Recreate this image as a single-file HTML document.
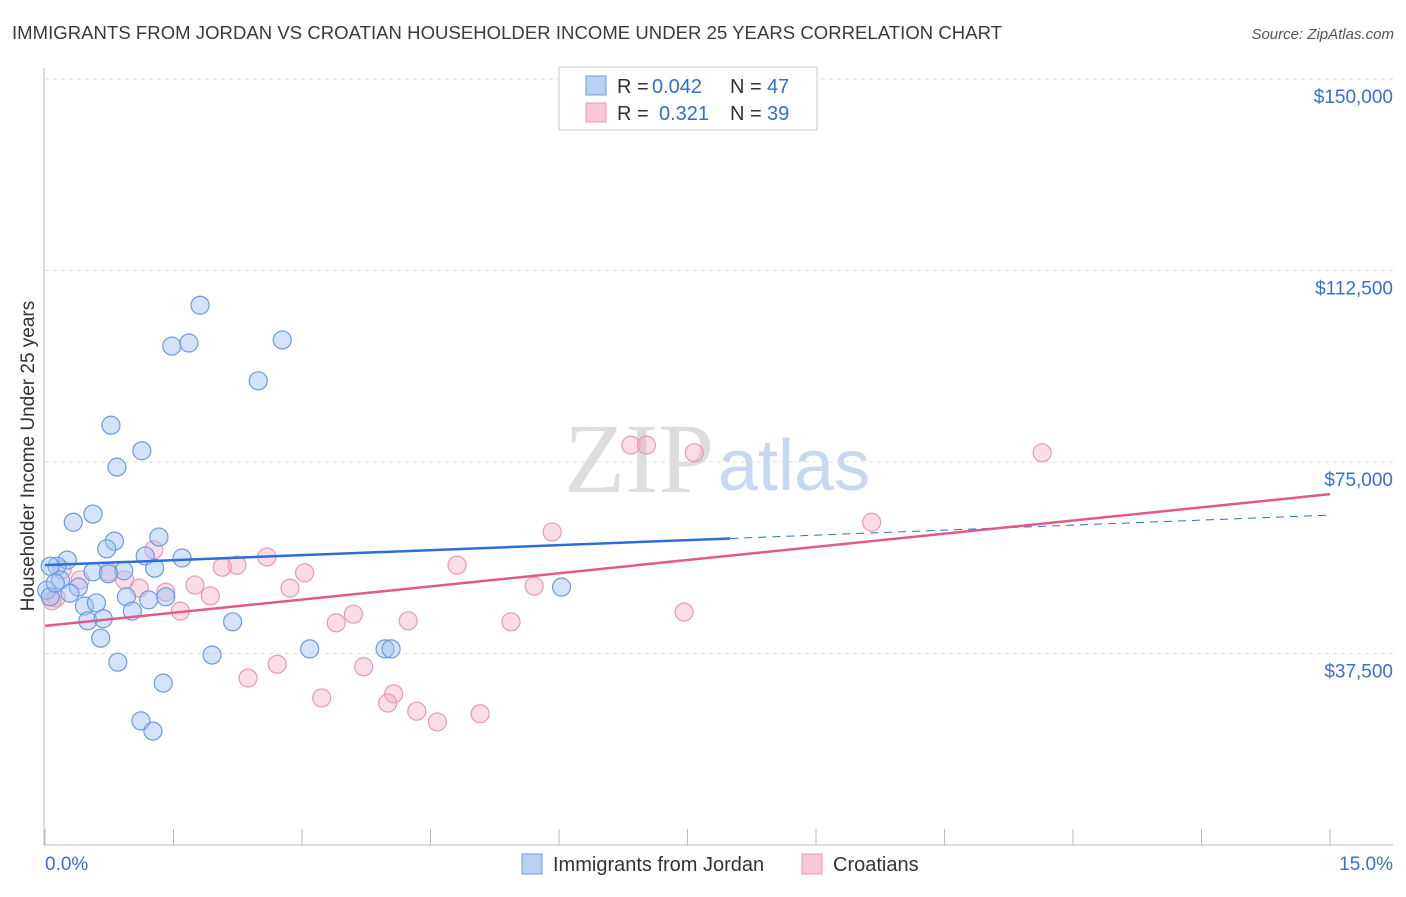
<!DOCTYPE html>
<html><head><meta charset="utf-8"><style>
body{margin:0;background:#fff;font-family:"Liberation Sans",sans-serif}
</style></head><body>
<svg id="c" width="1406" height="892" xmlns="http://www.w3.org/2000/svg" style="font-family:'Liberation Sans',sans-serif">
<text x="12" y="39" font-size="18.5" fill="#3a3a3a" textLength="990">IMMIGRANTS FROM JORDAN VS CROATIAN HOUSEHOLDER INCOME UNDER 25 YEARS CORRELATION CHART</text>
<text x="1394" y="39" font-size="15" fill="#555" font-style="italic" text-anchor="end">Source: ZipAtlas.com</text>
<text x="714" y="492" font-size="100" font-family="Liberation Serif" fill="#ddd" text-anchor="end">ZIP</text>
<text x="718" y="490" font-size="72" fill="#c8d8f0">atlas</text>
<text transform="translate(34,456) rotate(-90)" font-size="19" fill="#333" text-anchor="middle">Householder Income Under 25 years</text>
<g id="grid"></g><g id="marks"></g>
<g>
<rect x="559" y="67" width="258" height="63" fill="#fff" stroke="#ccc"/>
<rect x="586" y="76" width="20" height="19" fill="#b7d0f5" stroke="#6a9be0"/>
<rect x="586" y="103" width="20" height="19" fill="#f8c6d6" stroke="#e89ab2"/>
<text x="617" y="93" font-size="20" fill="#333">R =</text>
<text x="652" y="93" font-size="20" fill="#2f6fd0">0.042</text>
<text x="730" y="93" font-size="20" fill="#333">N =</text>
<text x="767" y="93" font-size="20" fill="#2f6fd0">47</text>
<text x="617" y="120" font-size="20" fill="#333">R =</text>
<text x="659" y="120" font-size="20" fill="#2f6fd0">0.321</text>
<text x="730" y="120" font-size="20" fill="#333">N =</text>
<text x="767" y="120" font-size="20" fill="#2f6fd0">39</text>
</g>
<g>
<rect x="522" y="854" width="20" height="20" fill="#b7d0f5" stroke="#6a9be0"/>
<text x="553" y="871" font-size="20" fill="#333">Immigrants from Jordan</text>
<rect x="802" y="854" width="20" height="20" fill="#f8c6d6" stroke="#e89ab2"/>
<text x="833" y="871" font-size="20" fill="#333">Croatians</text>
</g>
</svg>
<script>
const yTicks=[37500,75000,112500,150000];
const yTickLabels=["$37,500","$75,000","$112,500","$150,000"];
const xLabels=["0.0%","15.0%"];
const jordanX=[1.81,1.48,1.68,2.77,2.49,0.77,1.13,0.84,0.33,0.56,0.81,0.72,1.33,1.17,1.60,1.28,0.26,0.14,0.06,0.18,0.39,0.56,0.92,0.74,0.02,0.06,0.29,0.46,0.60,0.95,1.21,1.41,1.02,0.50,0.68,0.65,2.19,1.95,3.09,3.97,4.04,6.03,0.85,1.38,1.12,1.26,0.12];
const jordanY=[105700,97700,98300,98900,90900,82200,77200,74000,63200,64800,59500,58000,60300,56600,56200,54200,55800,54600,54600,51900,50500,53500,53700,53100,49900,48600,49300,46800,47400,48600,48000,48600,45800,43900,44300,40500,43700,37200,38400,38400,38400,50500,35800,31700,24300,22300,51300];
const croatX=[6.84,7.02,7.58,11.64,9.65,5.92,1.27,2.59,2.24,2.07,4.81,0.20,0.74,3.03,0.93,0.41,1.10,1.41,1.75,5.71,2.86,1.93,3.60,1.58,7.46,4.24,3.40,5.44,2.71,3.72,2.37,3.23,4.07,4.00,4.34,5.08,4.58,0.13,0.08];
const croatY=[78300,78300,76800,76800,63200,61300,57800,56400,54800,54400,54800,53900,53500,53300,51900,51900,50300,49500,50900,50700,50300,48800,45200,45800,45600,43900,43500,43700,35400,34900,32700,28800,29600,27800,26200,25700,24100,48400,47800];
const jordanTrend=[54800,64600];
const croatTrend=[42900,68700];
const NS="http://www.w3.org/2000/svg";
const X=p=>45+p*(1285/15), Y=v=>845-v/195.82;
function mk(t,a,p){const e=document.createElementNS(NS,t);for(const k in a)e.setAttribute(k,a[k]);p.appendChild(e);return e;}
const g=document.getElementById('grid'),m=document.getElementById('marks');
yTicks.forEach((v,i)=>{
 const l=mk('line',{x1:45,x2:1393,y1:Y(v),y2:Y(v),stroke:'#ddd','stroke-dasharray':'4,4'},g);
 
 
 const t=mk('text',{x:1393,y:Y(v)+24,'font-size':19,fill:'#3a6fd0','text-anchor':'end'},g);t.textContent=yTickLabels[i];
 
 
});
mk('line',{x1:44,x2:44,y1:68,y2:845,stroke:'#bbb'},g);
mk('line',{x1:44,x2:1393,y1:845,y2:845,stroke:'#bbb'},g);
for(let i=0;i<=10;i++){const tk=mk('line',{x1:X(i*1.5),x2:X(i*1.5),y1:829,y2:845,stroke:'#bbb'},g);
 
 }
let t0=mk('text',{x:45,y:870,'font-size':19,fill:'#3a6fd0'},g);t0.textContent=xLabels[0];


let t1=mk('text',{x:1393,y:870,'font-size':19,fill:'#3a6fd0','text-anchor':'end'},g);t1.textContent=xLabels[1];


croatX.forEach((x,i)=>{const c=mk('circle',{cx:X(x),cy:Y(croatY[i]),r:9,fill:'rgba(244,170,195,0.4)',stroke:'#e89ab2','stroke-width':1.2},m);
 
 });
jordanX.forEach((x,i)=>{const c=mk('circle',{cx:X(x),cy:Y(jordanY[i]),r:9,fill:'rgba(160,192,244,0.45)',stroke:'#6a9be0','stroke-width':1.2},m);
 
 });
const jAt=p=>jordanTrend[0]+(jordanTrend[1]-jordanTrend[0])*p/15;
let l1=mk('line',{x1:X(0),y1:Y(jAt(0)),x2:X(8),y2:Y(jAt(8)),stroke:'#2a6fd6','stroke-width':2.5},m);


let l2=mk('line',{x1:X(8),y1:Y(jAt(8)),x2:X(15),y2:Y(jAt(15)),stroke:'#2a6fd6','stroke-width':1,'stroke-dasharray':'8,6'},m);


let l3=mk('line',{x1:X(0),y1:Y(croatTrend[0]),x2:X(15),y2:Y(croatTrend[1]),stroke:'#e05a8a','stroke-width':2.5},m);


</script>
</body></html>
